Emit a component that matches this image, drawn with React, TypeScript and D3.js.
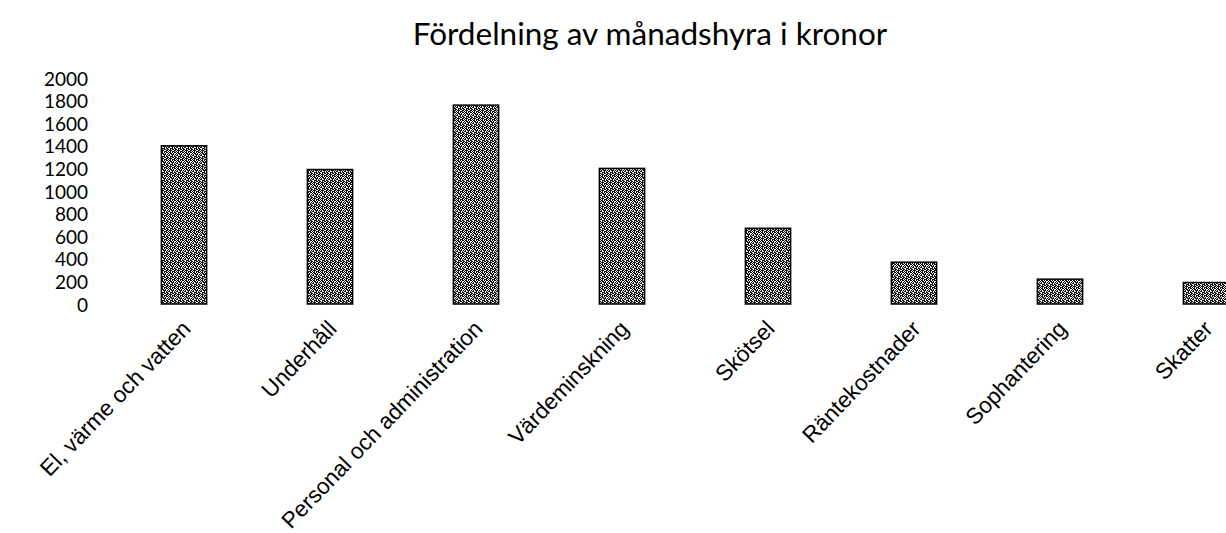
import React from 'react';
import * as d3 from 'd3';

// kostnadsposter och belopp (kr/månad)
const categories = [
  'El, värme och vatten',
  'Underhåll',
  'Personal och administration',
  'Värdeminskning',
  'Skötsel',
  'Räntekostnader',
  'Sophantering',
  'Skatter',
];
const values = [1400, 1190, 1760, 1200, 670, 370, 220, 190];
const yTicks = [0, 200, 400, 600, 800, 1000, 1200, 1400, 1600, 1800, 2000];
const title = 'Fördelning av månadshyra i kronor';

// dithered look of the scanned bars
const dither = [
  '10010100',
  '01001011',
  '10100010',
  '00110101',
  '11000100',
  '01010010',
  '10001100',
  '01010001',
];

const W = 1226;
const H = 533;

const App = () => {
  const x = d3
    .scaleBand<string>()
    .domain(categories)
    .range([111, 1279])
    .paddingInner(0.69)
    .paddingOuter(0.345);

  const y = d3.scaleLinear().domain([0, 2000]).range([304, 78]);

  return (
    <svg width={W} height={H} style={{ display: 'block', position: 'absolute', left: 0, top: 0 }}>
      <defs>
        <pattern id="scan" width={8} height={8} patternUnits="userSpaceOnUse">
          <rect width={8} height={8} fill="#111" />
          {dither.map((row, r) =>
            row.split('').map((c, k) =>
              c === '1' ? <rect key={r + '-' + k} x={k} y={r} width={1} height={1} fill="#eee" /> : null
            )
          )}
        </pattern>
      </defs>
      <rect width={W} height={H} fill="#fff" />

      <text x={650} y={45} textAnchor="middle" fontFamily="Lato, sans-serif" fontSize={31.5} fill="#000">
        {title}
      </text>

      {/* y ticks, no axis line */}
      <g fontFamily="Lato, sans-serif" fontSize={19} fill="#000">
        {yTicks.map(t => (
          <text key={t} x={88} y={y(t)} textAnchor="end" dominantBaseline="central">
            {t}
          </text>
        ))}
      </g>

      {/* bars */}
      {categories.map((c, i) => (
        <rect
          key={c}
          x={x(c)}
          y={y(values[i])}
          width={x.bandwidth()}
          height={y(0) - y(values[i])}
          fill="url(#scan)"
          stroke="#000"
          strokeWidth={1.5}
        />
      ))}

      {/* rotated category labels */}
      <g fontFamily="'Liberation Sans', Arial, sans-serif" fontSize={22.5} fill="#000">
        {categories.map(c => {
          const cx = (x(c) ?? 0) + x.bandwidth() / 2 + 8;
          const cy = y(0) + 26;
          return (
            <text key={c} x={cx} y={cy} textAnchor="end" transform={`rotate(-46 ${cx} ${cy})`}>
              {c}
            </text>
          );
        })}
      </g>
    </svg>
  );
};

export default App;
